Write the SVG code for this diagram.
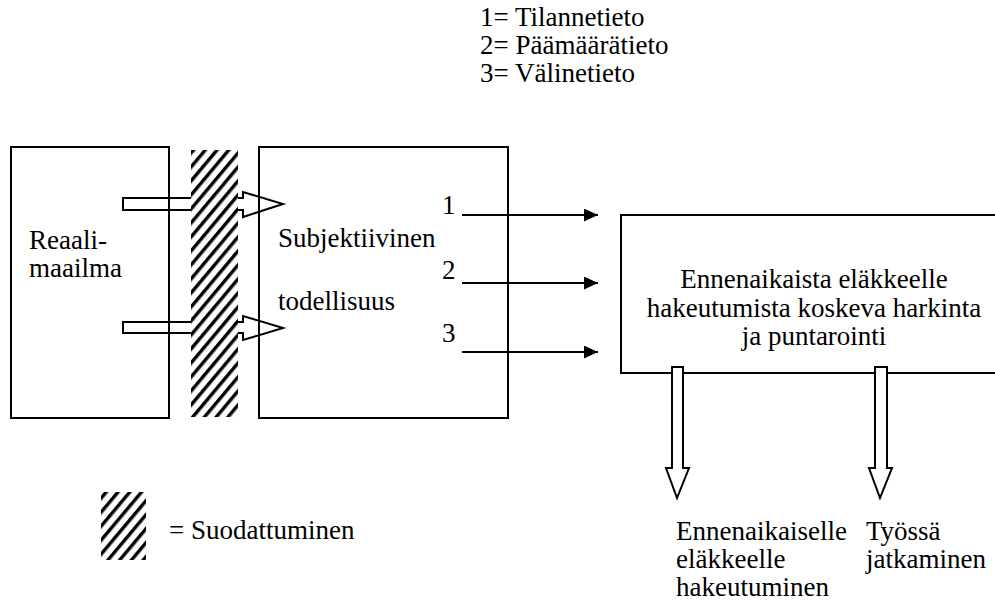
<svg xmlns="http://www.w3.org/2000/svg" width="995" height="603" viewBox="0 0 995 603">
<style>
.t{font-size:27px;fill:#000}
.box{fill:none;stroke:#000;stroke-width:2}
.ln{fill:none;stroke:#000;stroke-width:2}
.blk{fill:none;stroke:#000;stroke-width:2;stroke-linejoin:miter}
.blkw{fill:#fff;stroke:#000;stroke-width:2;stroke-linejoin:miter}
</style>
<defs>
<pattern id="hatch" patternUnits="userSpaceOnUse" width="9" height="9" patternTransform="rotate(40)">
<rect width="9" height="9" fill="#fff"/>
<rect width="3.4" height="9" fill="#000"/>
</pattern>
<marker id="ah" markerWidth="14" markerHeight="13" refX="14" refY="6.5" orient="auto" markerUnits="userSpaceOnUse">
<path d="M0,0 L14,6.5 L0,13 Z" fill="#000"/>
</marker>
</defs>

<g id="legend-top" class="t" font-family="Liberation Serif">
<text x="480" y="26">1= Tilannetieto</text>
<text x="480" y="54">2= Päämäärätieto</text>
<text x="480" y="82">3= Välinetieto</text>
</g>

<g id="reaalimaailma" class="t" font-family="Liberation Serif">
<rect class="box" x="11" y="147" width="158" height="271"/>
<text x="29" y="249">Reaali-</text>
<text x="29" y="277">maailma</text>
</g>

<g id="subjektiivinen" class="t" font-family="Liberation Serif">
<rect class="box" x="259" y="147" width="249" height="271"/>
<text x="278" y="247">Subjektiivinen</text>
<text x="278" y="310">todellisuus</text>
</g>

<g id="harkinta" class="t" font-family="Liberation Serif">
<path class="ln" d="M995,215 H621 V373 H995"/>
<text x="814" y="288" text-anchor="middle">Ennenaikaista eläkkeelle</text>
<text x="814" y="317" text-anchor="middle">hakeutumista koskeva harkinta</text>
<text x="814" y="345" text-anchor="middle">ja puntarointi</text>
</g>

<g id="connectors" class="t" font-family="Liberation Serif">
<path class="blk" d="M123,198 H243 V192 L283,204 L243,217 V210 H123 Z"/>
<path class="blk" d="M123,322 H243 V316 L283,328 L243,340 V333 H123 Z"/>
<line class="ln" x1="462" y1="215" x2="598" y2="215" marker-end="url(#ah)"/>
<line class="ln" x1="462" y1="283" x2="598" y2="283" marker-end="url(#ah)"/>
<line class="ln" x1="462" y1="352" x2="598" y2="352" marker-end="url(#ah)"/>
<path class="blkw" d="M672,367 H683 V468 H689 L677,498 L666,468 H672 Z"/>
<path class="blkw" d="M875,367 H887 V468 H892 L880,498 L869,468 H875 Z"/>
<text x="442" y="214">1</text>
<text x="442" y="279">2</text>
<text x="442" y="342">3</text>
</g>

<g id="suodatin">
<rect x="191" y="150" width="47" height="267" fill="url(#hatch)"/>
</g>

<g id="legend-filter" class="t" font-family="Liberation Serif">
<rect x="101" y="492" width="45" height="68" fill="url(#hatch)"/>
<text x="169" y="539">= Suodattuminen</text>
</g>

<g id="out-left" class="t" font-family="Liberation Serif">
<text x="676" y="540">Ennenaikaiselle</text>
<text x="676" y="568">eläkkeelle</text>
<text x="676" y="596">hakeutuminen</text>
</g>

<g id="out-right" class="t" font-family="Liberation Serif">
<text x="866" y="540">Työssä</text>
<text x="866" y="568">jatkaminen</text>
</g>
</svg>
